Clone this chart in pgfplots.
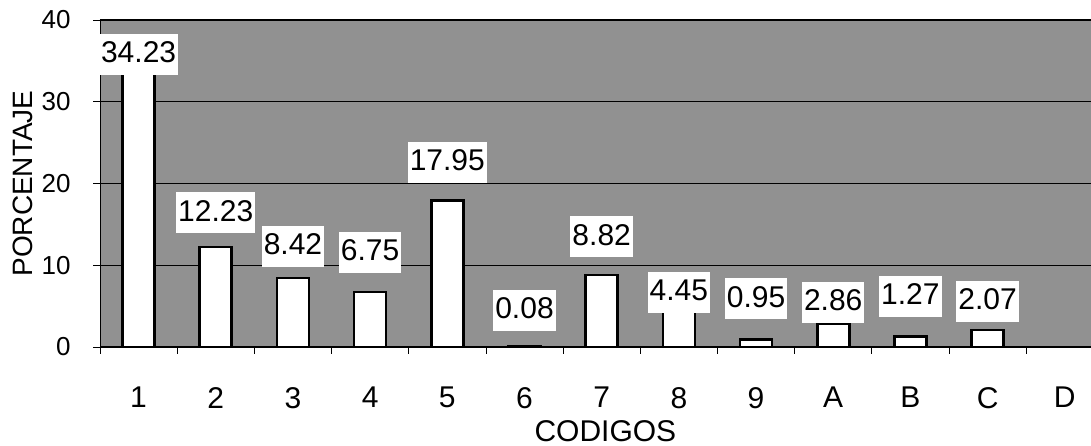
\documentclass[border=0pt]{standalone}
\usepackage{fontspec}
\setmainfont{Liberation Sans}
\usepackage{pgfplots}
\pgfplotsset{compat=1.18}
\definecolor{bggray}{RGB}{145,145,145}
\begin{document}
\begin{tikzpicture}
\begin{axis}[
  scale only axis,
  width=991pt, height=327pt,
  xmin=-0.5, xmax=12.34,
  ymin=0, ymax=40,
  axis x line*=bottom, axis y line*=left,
  axis line style={black, line width=0.8pt},
  axis background/.style={fill=bggray},
  ytick={0,10,20,30,40},
  ymajorgrids,
  grid style={black, line width=1.2pt},
  tick align=outside,
  major tick length=7pt,
  tick style={black, line width=0.8pt},
  /pgf/number format/assume math mode=true,
  yticklabel style={font=\fontsize{26}{26}\selectfont, xshift=-19pt},
  xtick={-0.5,0.5,...,11.5},
  xticklabels={},
  extra x ticks={0,1,...,12},
  extra x tick labels={1,2,3,4,5,6,7,8,9,A,B,C,D},
  extra x tick style={major tick length=0pt, xticklabel style={inner sep=0pt, yshift=-40pt}},
  xticklabel style={font=\fontsize{30}{30}\selectfont},
  xlabel={CODIGOS},
  ylabel={PORCENTAJE},
  xlabel style={at={(axis description cs:0.51,-0.256)}, anchor=center, inner sep=0pt, font=\fontsize{30}{30}\selectfont},
  ylabel style={at={(axis description cs:-0.078,0.5)}, anchor=center, font=\fontsize{28}{28}\selectfont},
  clip=false,
]
\addplot[ybar, bar width=32pt, fill=white, draw=black, line width=2.6pt] coordinates {
  (0,34.23) (1,12.23) (2,8.42) (3,6.75) (4,17.95) (5,0.08)
  (6,8.82) (7,4.45) (8,0.95) (9,2.86) (10,1.27) (11,2.07)
};
\addplot[draw=none, mark=none, point meta=explicit symbolic, nodes near coords,
  every node near coord/.append style={fill=white, inner xsep=2pt, inner ysep=5pt,
    text height=24pt, text depth=7pt, anchor=center, font=\fontsize{30}{30}\selectfont}]
  coordinates {
  (0,35.8)[34.23] (1,16.4)[12.23] (2,12.35)[8.42] (3,11.6)[6.75] (4,22.6)[17.95]
  (5,4.5)[0.08] (6,13.5)[8.82] (7,6.7)[4.45] (8,5.9)[0.95] (9,5.5)[2.86]
  (10,6.2)[1.27] (11,5.6)[2.07]
};
\coordinate (bl) at (rel axis cs:0,0);
\coordinate (tr) at (rel axis cs:1,1);
\end{axis}
\pgfresetboundingbox
\path ([xshift=-100pt,yshift=-99pt]bl) rectangle ([yshift=20pt]tr);
\end{tikzpicture}
\end{document}
